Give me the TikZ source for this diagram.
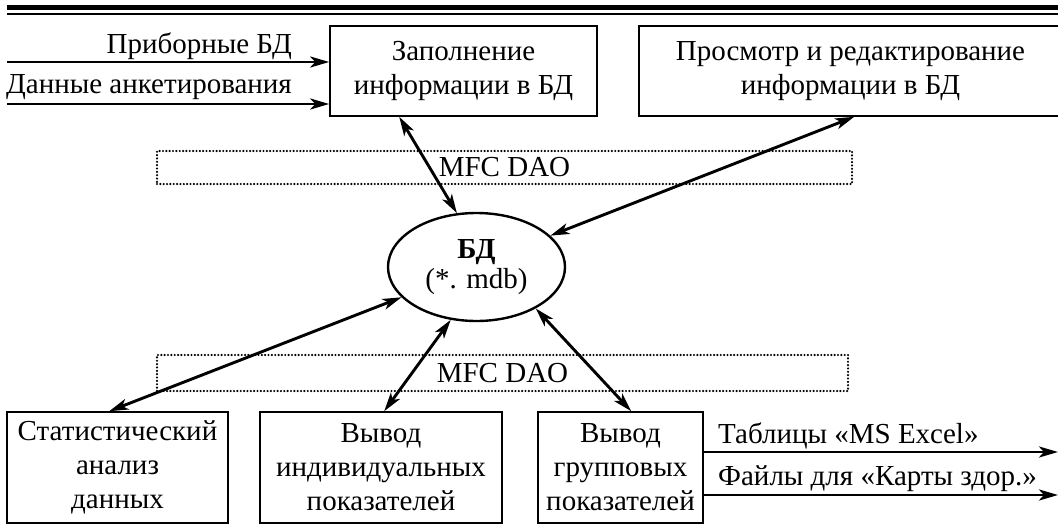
\documentclass[tikz,border=0pt]{standalone}
\usepackage{fontspec}
\setmainfont{Liberation Serif}
\usetikzlibrary{shapes.geometric,arrows.meta}
\begin{document}
\begin{tikzpicture}[x=1pt,y=-1pt,
  txt/.style={font=\fontsize{29}{34}\selectfont},
  block/.style={draw, line width=1.6pt, inner sep=0pt, align=center, txt},
  layer/.style={draw, line width=2.4pt, dash pattern=on 0pt off 3.35pt, line cap=round,
    inner sep=0pt, txt},
  tip/.tip={Stealth[length=19pt,width=11pt,inset=5pt]},
  flow/.style={line width=2.9pt, -tip},
  both/.style={line width=2.9pt, tip-tip},
  lbl/.style={txt, inner sep=0pt}]
\useasboundingbox (0,0) rectangle (1058,525);

% header rules
\draw[line width=5pt] (7,7.5) -- (1062,7.5);
\draw[line width=2.2pt] (7,14.3) -- (1062,14.3);

% blocks
\node[block, minimum width=267pt, minimum height=90pt] (fill) at (463.5,71)
  {Заполнение\\информации в БД};
\node[block, minimum width=423pt, minimum height=90pt] (view) at (850.5,71)
  {Просмотр и редактирование\\информации в БД};
\node[block, minimum width=221pt, minimum height=111pt] (stat) at (117.5,467.5)
  {Статистический\\анализ\\данных};
\node[block, minimum width=242pt, minimum height=111pt] (indiv) at (381,467.5)
  {Вывод\\индивидуальных\\показателей};
\node[block, minimum width=165pt, minimum height=111pt] (group) at (620.5,467.5)
  {Вывод\\групповых\\показателей};

% database
\node[draw, ellipse, line width=2.4pt, minimum width=177pt, minimum height=108pt,
  inner sep=0pt, align=center, font=\fontsize{29}{30}\selectfont] (db) at (476.5,267)
  {\textbf{БД}\\(*. mdb)};

% access layers
\node[layer, minimum width=695pt, minimum height=33pt] (daoTop) at (504.5,167.5) {MFC DAO};
\node[layer, minimum width=691pt, minimum height=36pt] (daoBot) at (502.5,373) {MFC DAO};

% inputs
\coordinate (inA) at (7,62);
\coordinate (inB) at (7,104);
\draw[flow] (inA) -- (inA -| fill.west);
\draw[flow] (inB) -- (inB -| fill.west);
\node[lbl, anchor=base east] (labA) at (292,53) {Приборные БД};
\node[lbl, anchor=base east] (labB) at (292,93) {Данные анкетирования};

% outputs
\coordinate (outA) at (1058,452);
\coordinate (outB) at (1058,495);
\draw[flow] (outA -| group.east) -- (outA);
\draw[flow] (outB -| group.east) -- (outB);
\node[lbl, anchor=base west] (labC) at (718,443) {Таблицы «MS Excel»};
\node[lbl, anchor=base west] (labD) at (718,485) {Файлы для «Карты здор.»};

% links to the database
\draw[both] ([xshift=70pt]fill.south west) -- (db.110);
\draw[both] ([xshift=216pt]view.south west) -- (db.23);
\draw[both] ([xshift=103pt]stat.north west) -- (db.202);
\draw[both] ([xshift=125pt]indiv.north west) -- (db.244);
\draw[both] ([xshift=94pt]group.north west) -- (db.325);
\end{tikzpicture}
\end{document}
